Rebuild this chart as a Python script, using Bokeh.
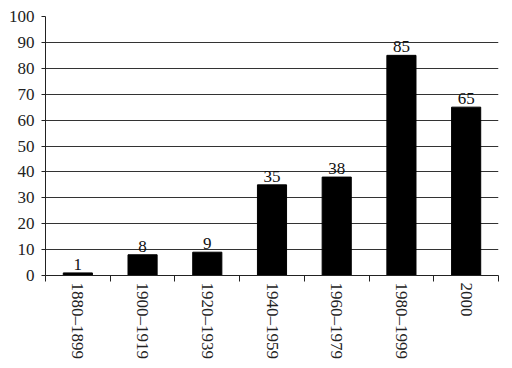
from bokeh.plotting import figure
from bokeh.models import Range1d, FixedTicker, ColumnDataSource, LabelSet
from bokeh.embed import file_html
from bokeh.resources import INLINE

categories = ["1880\u20131899", "1900\u20131919", "1920\u20131939", "1940\u20131959",
              "1960\u20131979", "1980\u20131999", "2000"]
values = [1, 8, 9, 35, 38, 85, 65]
y_ticks = [0, 10, 20, 30, 40, 50, 60, 70, 80, 90, 100]

FONT = "Liberation Serif"

xs = [i + 0.5 for i in range(len(categories))]
src = ColumnDataSource(dict(x=xs, top=values, lab=[str(v) for v in values]))

p = figure(frame_width=453, frame_height=259, output_backend="svg", toolbar_location=None,
           x_range=Range1d(0, len(categories)), y_range=Range1d(0, 100))
p.min_border_left = 45
p.min_border_right = 10
p.min_border_top = 16
p.min_border_bottom = 60
p.outline_line_color = None
p.background_fill_color = "white"
p.border_fill_color = "white"

p.vbar(x="x", top="top", width=0.45, bottom=0, source=src,
       fill_color="#000000", line_color="#000000")

labels = LabelSet(x="x", y="top", text="lab", source=src, text_align="center",
                  text_baseline="bottom", y_offset=3, text_font=FONT,
                  text_font_size="17px", text_color="#111111")
p.add_layout(labels)

# y axis
p.yaxis.ticker = FixedTicker(ticks=y_ticks)
p.yaxis.major_tick_in = 0
p.yaxis.major_tick_out = 4
p.yaxis.minor_tick_line_color = None
p.yaxis.axis_line_color = "#222222"
p.yaxis.major_tick_line_color = "#222222"
p.yaxis.major_label_text_font = FONT
p.yaxis.major_label_text_font_size = "17px"
p.yaxis.major_label_text_color = "#222222"
p.yaxis.major_label_standoff = 7

# x axis: labels at centres, ticks at boundaries
p.xaxis.ticker = FixedTicker(ticks=xs, minor_ticks=list(range(len(categories) + 1)))
p.xaxis.major_label_overrides = {x: c for x, c in zip(xs, categories)}
p.xaxis.major_tick_in = 0
p.xaxis.major_tick_out = 0
p.xaxis.minor_tick_in = 0
p.xaxis.minor_tick_out = 6
p.xaxis.minor_tick_line_color = "#222222"
p.xaxis.axis_line_color = "#222222"
p.xaxis.major_label_orientation = "vertical"
p.xaxis.major_label_text_font = FONT
p.xaxis.major_label_text_font_size = "17px"
p.xaxis.major_label_text_color = "#222222"
p.xaxis.major_label_standoff = 1

p.xgrid.grid_line_color = None
p.ygrid.ticker = FixedTicker(ticks=y_ticks[1:])
p.ygrid.grid_line_color = "#333333"
p.ygrid.grid_line_width = 1

open("out.html", "w").write(file_html(p, INLINE))
